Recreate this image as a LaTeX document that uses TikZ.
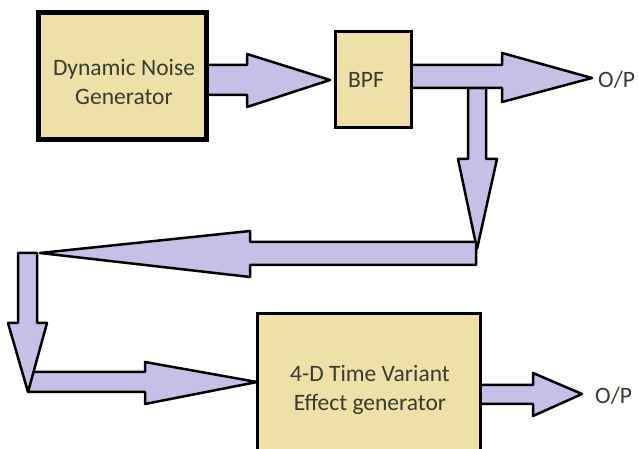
\documentclass[tikz,border=0pt]{standalone}
\usepackage{fontspec}
\setmainfont{Carlito}
\definecolor{boxfill}{HTML}{EFE0A8}
\definecolor{arrfill}{HTML}{C4C0E8}
\definecolor{txtcol}{HTML}{3A3A2E}
\begin{document}
\begin{tikzpicture}[x=1pt,y=-1pt,
  blk/.style={draw=black,fill=boxfill,line width=3pt,inner sep=0pt},
  blkthick/.style={blk,line width=5pt},
  barrow/.style={draw=black,fill=arrfill,line width=2.5pt,line join=round},
  lbl/.style={text=txtcol,font=\fontsize{23.5}{29}\selectfont,align=center,inner sep=0pt},
]
\useasboundingbox (0,0) rectangle (638,449);
% named anchor points
\coordinate (t1) at (330,80);
\coordinate (t2) at (592,78);
\coordinate (t3) at (477,249);
\coordinate (t4) at (40,253);
\coordinate (t5) at (28,392);
\coordinate (t6) at (257,382);
\coordinate (t7) at (582,394);
% arrows (drawn before boxes)
\draw[barrow] (206,65) -- (247,65) -- (247,54) -- (t1) -- (247,107) -- (247,95) -- (206,95) -- cycle;
\draw[barrow] (468,88) -- (468,159) -- (458,159) -- (t3) -- (497,159) -- (486,159) -- (486,88) -- cycle;
\draw[barrow] (411,65) -- (502,65) -- (502,53) -- (t2) -- (502,102) -- (502,88) -- (411,88) -- cycle;
\draw[barrow] (476,242) -- (250,242) -- (250,231) -- (t4) -- (250,277) -- (250,265) -- (476,265) -- cycle;
\draw[barrow] (28,372) -- (145,372) -- (145,362) -- (t6) -- (145,404) -- (145,392) -- (28,392) -- cycle;
\draw[barrow] (18,253) -- (37,253) -- (37,323) -- (47,323) -- (t5) -- (8,323) -- (18,323) -- cycle;
\draw[barrow] (480,385) -- (533,385) -- (533,373) -- (t7) -- (533,416) -- (533,404) -- (480,404) -- cycle;
% boxes
\node[blkthick,minimum width=168pt,minimum height=127pt] (dng) at (122,76.5) {};
\node[lbl] (dngt) at (124,82) {Dynamic Noise\\Generator};
\node[blk,minimum width=76pt,minimum height=96pt] (bpf) at (373,80) {};
\node[lbl] (bpft) at (366,80) {BPF};
\node[blk,minimum width=223pt,minimum height=142pt] (tve) at (368.5,385) {};
\node[lbl] (tvet) at (370,390) {4-D Time Variant\\Effect generator};
% outputs
\node[lbl,anchor=west] (op1) at (598,80) {O/P};
\node[lbl,anchor=west] (op2) at (595,396) {O/P};
\end{tikzpicture}
\end{document}
